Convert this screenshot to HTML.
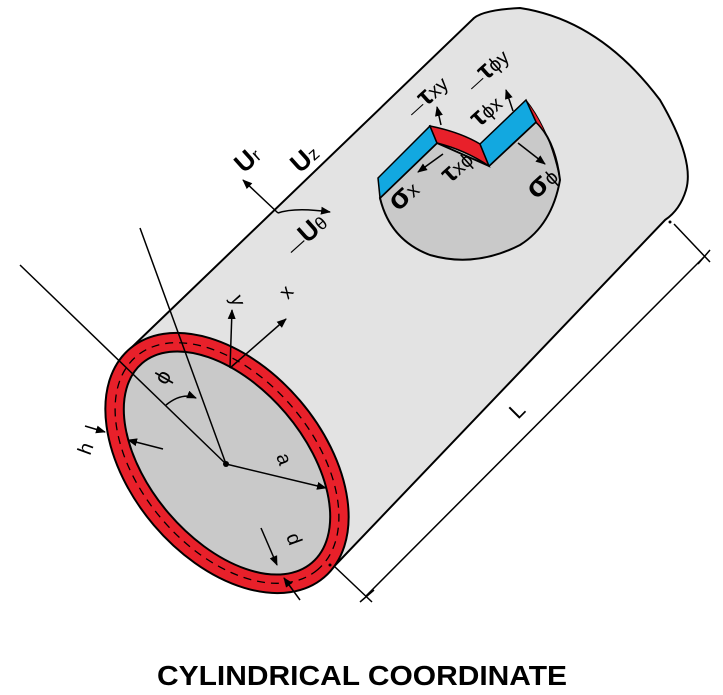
<!DOCTYPE html>
<html><head><meta charset="utf-8"><style>
html,body{margin:0;padding:0;background:#fff;}
svg{display:block;font-family:"Liberation Sans",sans-serif;}
</style></head><body>
<svg width="723" height="695" viewBox="0 0 723 695" xmlns="http://www.w3.org/2000/svg">
<defs>
<marker id="ar" markerWidth="10" markerHeight="10" refX="9" refY="5" orient="auto" markerUnits="userSpaceOnUse">
<path d="M0,1 L10,5 L0,9 Z" fill="#000"/></marker>
</defs>
<path d="M130,349 L472,20 Q480,10 520,8 Q600,20 660,100 Q695,160 686,190 Q680,210 665,220 L324,577 Z" fill="#e3e3e3" stroke="#000" stroke-width="2"/>
<path d="M380,198 Q390,240 430,255 Q475,268 520,245 Q552,225 560,180 Q555,140 536,122 L489,166 L437,143 Z" fill="#c9c9c9" stroke="#000" stroke-width="2"/>
<path d="M526,100 Q550,130 560,180 Q555,140 536,122 Z" fill="#e8202a" stroke="#000" stroke-width="1"/>
<path d="M378,178 L430,126 L437,143 L380,198 Z" fill="#12a8e0" stroke="#000" stroke-width="1.5"/>
<path d="M430,126 Q460,132 480,144 L489,166 Q465,150 437,143 Z" fill="#e8202a" stroke="#000" stroke-width="1.5"/>
<path d="M480,144 L526,100 L536,122 L489,166 Z" fill="#12a8e0" stroke="#000" stroke-width="1.5"/>
<g stroke="#000" stroke-width="1.5" fill="none">
<line x1="441" y1="125" x2="437" y2="107" marker-end="url(#ar)"/>
<line x1="513" y1="111" x2="506" y2="90" marker-end="url(#ar)"/>
<line x1="443" y1="154" x2="418" y2="172" marker-end="url(#ar)"/>
<line x1="518" y1="143" x2="545" y2="164" marker-end="url(#ar)"/>
</g>
<g font-size="20" fill="#000">
<text transform="translate(414,118) rotate(-42)"><tspan font-size="16">—</tspan><tspan font-weight="bold" font-size="27">τ</tspan>xy</text>
<text transform="translate(474,92) rotate(-42)"><tspan font-size="16">—</tspan><tspan font-weight="bold" font-size="27">τ</tspan>ϕy</text>
<text transform="translate(479,128) rotate(-42)"><tspan font-weight="bold" font-size="27">τ</tspan>ϕx</text>
<text transform="translate(450,184) rotate(-42)"><tspan font-weight="bold" font-size="27">τ</tspan>xϕ</text>
<text transform="translate(398,212) rotate(-42)"><tspan font-weight="bold" font-size="30">σ</tspan>x</text>
<text transform="translate(536,200) rotate(-42)"><tspan font-weight="bold" font-size="30">σ</tspan>ϕ</text>
</g>
<g stroke="#000" stroke-width="1.5" fill="none">
<line x1="278" y1="213" x2="243" y2="180" marker-end="url(#ar)"/>
<path d="M278,213 Q295,207 330,212" marker-end="url(#ar)"/>
</g>
<g fill="#000" font-size="18">
<text transform="translate(244,174) rotate(-42)"><tspan font-weight="bold" font-size="26">U</tspan>r</text>
<text transform="translate(300,174) rotate(-42)"><tspan font-weight="bold" font-size="26">U</tspan>z</text>
<text transform="translate(294,256) rotate(-42)"><tspan font-size="18">—</tspan><tspan font-weight="bold" font-size="26">U</tspan>θ</text>
</g>
<g transform="translate(227,463) rotate(49.6)">
<ellipse cx="0" cy="0" rx="150" ry="96" fill="#e8202a" stroke="#000" stroke-width="2"/>
<ellipse cx="0" cy="0" rx="140" ry="86" fill="none" stroke="#000" stroke-width="1.3" stroke-dasharray="8,6"/>
<ellipse cx="0" cy="0" rx="131" ry="77" fill="#c9c9c9" stroke="#000" stroke-width="2"/>
</g>
<g stroke="#000" stroke-width="1.5" fill="none">
<line x1="20" y1="265" x2="226" y2="464"/>
<line x1="140" y1="228" x2="226" y2="464"/>
<path d="M166,405 Q182,392 196,398" marker-end="url(#ar)"/>
<line x1="226" y1="464" x2="326" y2="488" marker-end="url(#ar)"/>
<line x1="163" y1="449" x2="128" y2="440" marker-end="url(#ar)"/>
<line x1="85" y1="426" x2="105" y2="432" marker-end="url(#ar)"/>
<line x1="261" y1="528" x2="277" y2="565" marker-end="url(#ar)"/>
<line x1="300" y1="600" x2="284" y2="578" marker-end="url(#ar)"/>
<line x1="230" y1="368" x2="232" y2="310" marker-end="url(#ar)"/>
<line x1="230" y1="368" x2="286" y2="319" marker-end="url(#ar)"/>
<line x1="334" y1="566" x2="372" y2="602"/>
<line x1="674" y1="224" x2="710" y2="262"/>
<line x1="366" y1="596" x2="704" y2="257"/>
<line x1="360" y1="602" x2="374" y2="590"/>
<line x1="698" y1="264" x2="710" y2="250"/>
</g>
<circle cx="226" cy="464" r="3" fill="#000"/>
<circle cx="330" cy="565" r="1.5" fill="#000"/>
<circle cx="670" cy="222" r="1.5" fill="#000"/>
<g fill="#000" font-size="20">
<text transform="translate(166,386) rotate(-60)" font-size="22">ϕ</text>
<text transform="translate(276,456) rotate(70)">a</text>
<text transform="translate(90,456) rotate(-70)">h</text>
<text transform="translate(286,536) rotate(70)">d</text>
<text transform="translate(230,298) rotate(70)">y</text>
<text transform="translate(288,300) rotate(-50)">x</text>
<text transform="translate(518,420) rotate(-45)" font-size="22">L</text>
</g>
<text x="362" y="685" text-anchor="middle" font-size="28" font-weight="bold" textLength="410" lengthAdjust="spacingAndGlyphs">CYLINDRICAL COORDINATE</text>
</svg>
</body></html>
